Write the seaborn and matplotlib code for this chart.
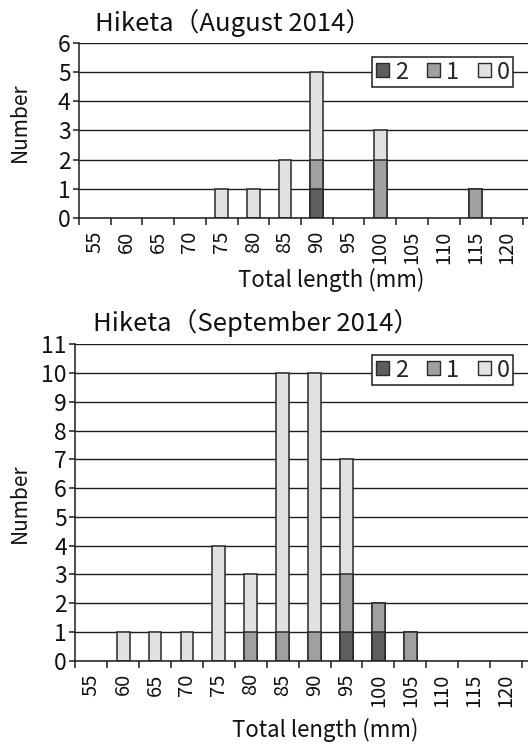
import numpy as np
import pandas as pd
import matplotlib
matplotlib.use("Agg")
import matplotlib.pyplot as plt
from matplotlib.patches import Patch
from matplotlib.ticker import FixedLocator
import seaborn as sns

# Total length classes (mm)
lengths = ["55", "60", "65", "70", "75", "80", "85", "90",
           "95", "100", "105", "110", "115", "120"]

# Counts per class for each grade, August 2014
aug_grade2 = [0, 0, 0, 0, 0, 0, 0, 1, 0, 0, 0, 0, 0, 0]
aug_grade1 = [0, 0, 0, 0, 0, 0, 0, 1, 0, 2, 0, 0, 1, 0]
aug_grade0 = [0, 0, 0, 0, 1, 1, 2, 3, 0, 1, 0, 0, 0, 0]

# Counts per class for each grade, September 2014
sep_grade2 = [0, 0, 0, 0, 0, 0, 0, 0, 1, 1, 0, 0, 0, 0]
sep_grade1 = [0, 0, 0, 0, 0, 1, 1, 1, 2, 1, 1, 0, 0, 0]
sep_grade0 = [0, 1, 1, 1, 4, 2, 9, 9, 4, 0, 0, 0, 0, 0]

grade_labels = ["2", "1", "0"]
titles = ["Hiketa\uff08August 2014\uff09", "Hiketa\uff08September 2014\uff09"]

sns.set_theme(style="white")
plt.rcParams["font.family"] = ["Noto Sans CJK JP", "DejaVu Sans"]

C2, C1, C0 = "#5e5e5e", "#a0a0a0", "#e1e1e3"
EDGE = "#2a2a2a"
TXT = "#111111"
W, H = 528, 745

fig = plt.figure(figsize=(W / 100, H / 100), dpi=100)
fig.patch.set_facecolor("white")


def fx(px):
    return px / W


def fy(py):
    return 1 - py / H


def stacked(ax, g2, g1, g0, ymax, xmax):
    g2 = np.array(g2, float)
    g1 = np.array(g1, float)
    g0 = np.array(g0, float)
    lower = g2 + g1
    total = lower + g0
    for vals, col in [(total, C0), (lower, C1), (g2, C2)]:
        df = pd.DataFrame({"length": lengths,
                           "n": np.where(vals > 0, vals, np.nan)})
        sns.barplot(data=df, x="length", y="n", order=lengths, color=col,
                    saturation=1, width=0.4, edgecolor=EDGE, linewidth=1.1,
                    ax=ax, zorder=3, errorbar=None)
    ax.set_xlim(-0.5, xmax)
    ax.set_ylim(0, ymax)
    ax.set_yticks(range(ymax + 1))
    ax.set_axisbelow(True)
    ax.yaxis.grid(True, color="#1e1e1e", linewidth=1.0)
    ax.xaxis.grid(False)
    ax.set_xlabel("")
    ax.set_ylabel("")
    for s in ["top", "right"]:
        ax.spines[s].set_visible(False)
    for s in ["left", "bottom"]:
        ax.spines[s].set_color("#1e1e1e")
        ax.spines[s].set_linewidth(1.1)
        ax.spines[s].set_zorder(4)
    ax.xaxis.set_minor_locator(FixedLocator(np.arange(-0.5, 14, 1.0)))
    ax.tick_params(axis="x", which="major", length=0, pad=9,
                   labelrotation=90, labelsize=14.5, labelcolor=TXT)
    ax.tick_params(axis="x", which="minor", length=5, width=1.1,
                   color="#1e1e1e", direction="out", bottom=True)
    ax.tick_params(axis="y", which="major", length=4, width=1.1,
                   color="#1e1e1e", direction="out", left=True, pad=2,
                   labelsize=16.5, labelcolor=TXT)


def legend(ax, top_px):
    handles = [Patch(facecolor=c, edgecolor=EDGE, linewidth=1.0, label=l)
               for c, l in zip([C2, C1, C0], grade_labels)]
    leg = ax.legend(handles=handles, ncol=3, loc="upper right",
                    bbox_to_anchor=(fx(513), fy(top_px)),
                    bbox_transform=fig.transFigure, frameon=True,
                    fancybox=False, framealpha=1, edgecolor="#1e1e1e",
                    fontsize=17, handlelength=0.55, handleheight=0.55,
                    handletextpad=0.25, columnspacing=0.8, borderpad=0.15,
                    borderaxespad=0)
    leg.get_frame().set_linewidth(1.1)
    leg.set_zorder(5)


# August panel
ax1 = fig.add_axes([fx(79), fy(218), 1 - fx(79), fy(42.7) - fy(218)])
stacked(ax1, aug_grade2, aug_grade1, aug_grade0, 6, 13.66)
legend(ax1, 57)

# September panel
ax2 = fig.add_axes([fx(75.3), fy(660.7), 1 - fx(75.3), fy(344.3) - fy(660.7)])
stacked(ax2, sep_grade2, sep_grade1, sep_grade0, 11, 13.69)
legend(ax2, 355)

# Titles and axis labels
fig.text(fx(95), fy(31), titles[0], fontsize=18.5, va="baseline",
         ha="left", color=TXT)
fig.text(fx(93), fy(331), titles[1], fontsize=18.5, va="baseline",
         ha="left", color=TXT)
fig.text(fx(20), fy(122), "Number", rotation=90, fontsize=15,
         va="center", ha="center", color=TXT)
fig.text(fx(20), fy(503), "Number", rotation=90, fontsize=15,
         va="center", ha="center", color=TXT)
fig.text(fx(331), fy(287), "Total length (mm)", fontsize=16,
         va="baseline", ha="center", color=TXT)
fig.text(fx(325), fy(737), "Total length (mm)", fontsize=16,
         va="baseline", ha="center", color=TXT)

fig.savefig("out.png", dpi=100, facecolor="white")
